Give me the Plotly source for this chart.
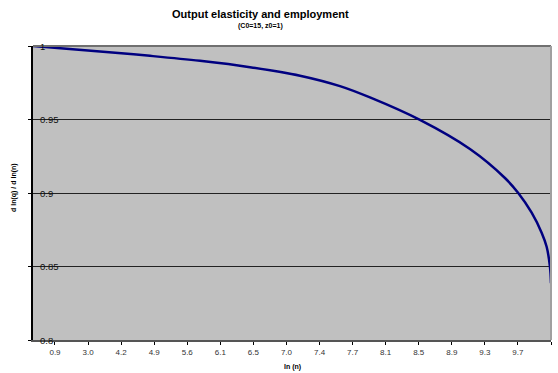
import plotly.graph_objects as go

# ln(n) category labels shown along the x axis
ln_n_labels = ["0.9", "3.0", "4.2", "4.9", "5.6", "6.1", "6.5", "7.0",
               "7.4", "7.7", "8.1", "8.5", "8.9", "9.3", "9.7", "10.2"]

# curve samples: position along the category axis and output elasticity
positions = [-0.665, 1.361, 2.873, 4.385, 5.897, 7.409, 8.618, 9.525,
             11.037, 12.549, 13.607, 14.010, 14.415, 14.717, 14.868,
             14.968, 15.0]
elasticity = [1.000, 0.9963, 0.9933, 0.9899, 0.9856, 0.9798, 0.9727,
              0.9650, 0.9497, 0.9299, 0.9102, 0.9000, 0.8866, 0.8730,
              0.8634, 0.8500, 0.8387]

y_ticks = [0.8, 0.85, 0.9, 0.95, 1]
y_tick_text = ["0.8", "0.85", "0.9", "0.95", "1"]

FONT = "Arial, Liberation Sans, sans-serif"

fig = go.Figure()
fig.add_trace(go.Scatter(
    x=positions, y=elasticity, mode="lines",
    line=dict(color="#000080", width=2.5, shape="spline", smoothing=1.0),
    hoverinfo="skip", showlegend=False,
))

annotations = [
    dict(text="<b>Output elasticity and employment</b>", xref="paper", yref="paper",
         x=0.44, y=1, yshift=32, showarrow=False, xanchor="center", yanchor="middle",
         font=dict(size=11, family=FONT, color="#000")),
    dict(text="<b>(C0=15, z0=1)</b>", xref="paper", yref="paper",
         x=0.44, y=1, yshift=20, showarrow=False, xanchor="center", yanchor="middle",
         font=dict(size=7, family=FONT, color="#000")),
    dict(text="<b>ln (n)</b>", xref="paper", yref="paper",
         x=0.5, y=0, yshift=-27, showarrow=False, xanchor="center", yanchor="middle",
         font=dict(size=7, family=FONT, color="#000")),
    dict(text="<b>d ln(q) / d ln(n)</b>", xref="paper", yref="paper",
         x=0, xshift=-19, y=0.517, showarrow=False, textangle=-90,
         xanchor="center", yanchor="middle",
         font=dict(size=7, family=FONT, color="#000")),
]
# y tick labels sit just inside the plot area, right of the axis line
for val, txt in zip(y_ticks, y_tick_text):
    annotations.append(dict(
        text=txt, xref="paper", yref="y", x=0, y=val, xshift=5,
        showarrow=False, xanchor="left", yanchor="middle",
        font=dict(size=9.5, family=FONT, color="#111"),
    ))

fig.update_layout(
    width=558, height=373,
    margin=dict(l=33, r=7, t=46, b=33),
    paper_bgcolor="white",
    plot_bgcolor="#c0c0c0",
    font=dict(family=FONT, size=8, color="#000"),
    xaxis=dict(
        range=[-0.665, 15.0],
        tickvals=list(range(len(ln_n_labels))),
        ticktext=ln_n_labels,
        showgrid=False, zeroline=False,
        showline=True, linecolor="#555555", linewidth=2,
        ticks="outside", ticklen=3, tickcolor="#000", tickwidth=1,
        tickfont=dict(size=8, color="#333"),
    ),
    yaxis=dict(
        range=[0.8, 1.0],
        tickvals=y_ticks,
        showticklabels=False,
        showgrid=True, gridcolor="#222", gridwidth=1,
        zeroline=False,
        showline=True, linecolor="#000", linewidth=1.5,
        ticks="outside", ticklen=3, tickcolor="#000",
    ),
    shapes=[
        dict(type="line", xref="paper", yref="paper", x0=0, x1=1, y0=1, y1=1,
             line=dict(color="#707070", width=2)),
        dict(type="line", xref="paper", yref="paper", x0=1, x1=1, y0=0, y1=1,
             line=dict(color="#a0a0a0", width=2)),
    ],
    annotations=annotations,
)

fig.write_html("out.html")
